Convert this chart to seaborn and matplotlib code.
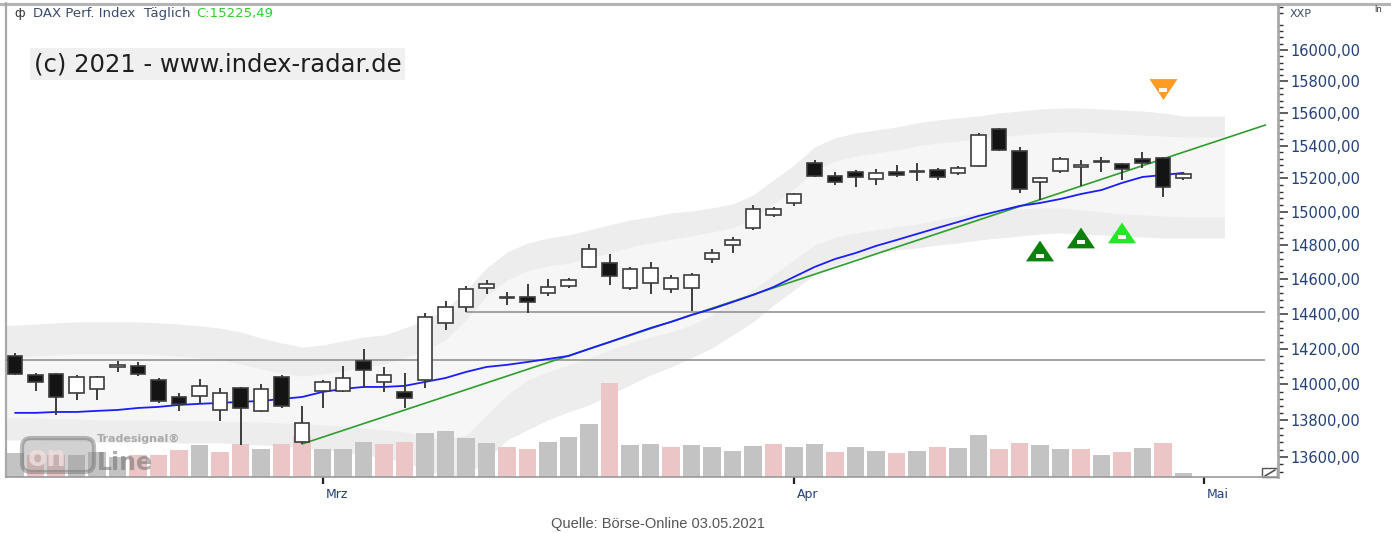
import numpy as np
import pandas as pd
import matplotlib
matplotlib.use("Agg")
import matplotlib.pyplot as plt
import matplotlib.ticker as mticker
import matplotlib.transforms as mtransforms
from matplotlib.patches import FancyBboxPatch, Rectangle
from matplotlib.lines import Line2D
import seaborn as sns

W, H = 1391, 533

## DAX DAILY CANDLES (bar 0 = first bar on screen) ##
bars = list(range(58))
opens = [14160, 14053, 14059, 13952, 13975, 14100, 14104, 14025, 13930, 13936,
         13858, 13980, 13852, 14042, 13682, 13963, 13963, 14132, 14014, 13958,
         14025, 14348, 14440, 14549, 14494, 14497, 14520, 14561, 14672, 14695,
         14549, 14578, 14544, 14549, 14719, 14801, 14903, 14980, 15052, 15295,
         15215, 15240, 15197, 15240, 15237, 15252, 15234, 15276, 15503, 15368,
         15179, 15246, 15272, 15298, 15289, 15319, 15325, 15203]
highs = [14177, 14064, 14064, 14053, 14047, 14132, 14126, 14036, 13952, 14031,
         13980, 13986, 14003, 14053, 13880, 14025, 14104, 14200, 14098, 14064,
         14405, 14474, 14561, 14596, 14526, 14573, 14602, 14608, 14807, 14748,
         14672, 14701, 14625, 14637, 14778, 14849, 15040, 15028, 15112, 15313,
         15240, 15252, 15258, 15282, 15295, 15264, 15276, 15478, 15509, 15393,
         15209, 15331, 15313, 15331, 15295, 15362, 15331, 15240]
lows = [14053, 13963, 13830, 13914, 13914, 14070, 14047, 13897, 13852, 13897,
        13797, 13666, 13847, 13869, 13671, 13869, 13958, 13980, 13958, 13869,
        13980, 14308, 14411, 14515, 14451, 14405, 14503, 14549, 14666, 14567,
        14538, 14515, 14520, 14417, 14695, 14754, 14891, 14968, 15034, 15209,
        15161, 15148, 15161, 15209, 15185, 15191, 15221, 15270, 15368, 15112,
        15070, 15234, 15154, 15240, 15191, 15264, 15088, 15191]
closes = [14059, 14014, 13930, 14042, 14042, 14108, 14059, 13908, 13891, 13991,
          13952, 13869, 13975, 13880, 13786, 14014, 14036, 14081, 14053, 13925,
          14382, 14440, 14544, 14573, 14500, 14468, 14555, 14596, 14778, 14620,
          14661, 14666, 14608, 14625, 14754, 14831, 15016, 15016, 15106, 15215,
          15179, 15209, 15234, 15221, 15243, 15209, 15264, 15466, 15374, 15136,
          15203, 15319, 15280, 15304, 15258, 15295, 15148, 15225]

# volume (relative units) and bar colour group
volume = [24, 22, 22, 22, 25, 20, 22, 22, 27, 32,
          25, 33, 28, 33, 41, 28, 28, 35, 33, 35,
          44, 46, 39, 34, 30, 28, 35, 40, 53, 94,
          32, 33, 30, 32, 30, 26, 31, 33, 30, 33,
          25, 30, 26, 24, 26, 30, 29, 42, 28, 34,
          32, 28, 28, 22, 25, 29, 34, 4]
vol_dir = ['up', 'down', 'down', 'up', 'up', 'up', 'down', 'down', 'down', 'up',
           'down', 'down', 'up', 'down', 'down', 'up', 'up', 'up', 'down', 'down',
           'up', 'up', 'up', 'up', 'down', 'down', 'up', 'up', 'up', 'down',
           'up', 'up', 'down', 'up', 'up', 'up', 'up', 'down', 'up', 'up',
           'down', 'up', 'up', 'down', 'up', 'down', 'up', 'up', 'down', 'down',
           'up', 'up', 'down', 'up', 'down', 'up', 'down', 'up']

## BANDS (shaded channel) ##
band_x = list(range(-1, 60))
band_up_outer = [14330, 14336, 14342, 14348, 14354, 14354, 14354, 14354, 14348, 14342,
                 14331, 14319, 14297, 14262, 14234, 14211, 14222, 14245, 14268, 14279,
                 14319, 14365, 14423, 14538, 14666, 14760, 14813, 14843, 14861, 14891,
                 14921, 14950, 14968, 14992, 15004, 15022, 15046, 15100, 15191, 15282,
                 15393, 15448, 15479, 15497, 15516, 15541, 15559, 15572, 15584, 15603,
                 15615, 15628, 15634, 15634, 15628, 15621, 15615, 15603, 15584, 15584, 15584]
band_up_inner = [14150, 14155, 14160, 14166, 14172, 14172, 14172, 14172, 14166, 14160,
                 14149, 14138, 14115, 14087, 14064, 14047, 14059, 14076, 14098, 14115,
                 14149, 14194, 14251, 14365, 14503, 14596, 14649, 14678, 14695, 14725,
                 14754, 14790, 14813, 14837, 14855, 14879, 14903, 14956, 15046, 15136,
                 15246, 15307, 15337, 15356, 15374, 15399, 15417, 15429, 15442, 15454,
                 15466, 15479, 15485, 15485, 15479, 15472, 15466, 15460, 15454, 15454, 15454]
band_lo_inner = [13814, 13814, 13814, 13808, 13808, 13803, 13803, 13803, 13803, 13797,
                 13797, 13797, 13792, 13792, 13786, 13781, 13775, 13770, 13759, 13748,
                 13737, 13715, 13693, 13720, 13830, 13941, 14025, 14070, 14110, 14149,
                 14194, 14234, 14268, 14297, 14336, 14394, 14468, 14538, 14626, 14713,
                 14801, 14849, 14873, 14891, 14909, 14926, 14950, 14974, 14992, 15004,
                 15016, 15022, 15022, 15010, 14998, 14986, 14980, 14974, 14968, 14968, 14968]
band_lo_outer = [13693, 13693, 13693, 13688, 13688, 13682, 13682, 13682, 13682, 13677,
                 13677, 13677, 13671, 13666, 13661, 13650, 13639, 13628, 13612, 13595,
                 13573, 13530, 13498, 13498, 13584, 13693, 13748, 13803, 13847, 13886,
                 13941, 13997, 14053, 14098, 14149, 14205, 14279, 14354, 14451, 14538,
                 14626, 14684, 14725, 14754, 14772, 14784, 14801, 14813, 14831, 14843,
                 14855, 14867, 14873, 14867, 14861, 14855, 14849, 14843, 14843, 14843, 14843]

# blue moving average
ma_line = [13842, 13842, 13847, 13847, 13853, 13858, 13869, 13875, 13886, 13892,
           13897, 13903, 13908, 13919, 13930, 13958, 13975, 13986, 13986, 13992,
           14014, 14036, 14070, 14098, 14110, 14126, 14143, 14160, 14200, 14239,
           14279, 14319, 14354, 14394, 14428, 14468, 14509, 14555, 14614, 14672,
           14719, 14754, 14796, 14831, 14867, 14903, 14938, 14974, 15004, 15034,
           15052, 15076, 15106, 15130, 15173, 15209, 15221, 15234]

# green trend line, horizontal support lines
trend_x = [14, 61]
trend_y = [13671, 15528]
hline_levels = [14138, 14410]
hline_start = [-0.44, 22]
hline_end = 61

# signal markers
buy_x = [50, 52, 54]
buy_y = [14766, 14843, 14873]
buy_col = ['#0b800b', '#0b800b', '#26e626']
sell_x = [56]
sell_y = [15753]

month_pos = [15, 38, 58]
month_lbl = ['Mrz', 'Apr', 'Mai']
y_major = list(range(13600, 16001, 200))

sns.set_theme(style='white')
plt.rcParams['font.family'] = ['DejaVu Sans']

fig = plt.figure(figsize=(W / 100, H / 100), dpi=100)
pos = [6 / W, 1 - 477 / H, 1272 / W, 472 / H]
XLIM = (-0.44, 61.61)
YLIM = (13492, 16290)

axb = fig.add_axes(pos)
axb.set_yscale('log')
axv = fig.add_axes(pos, sharex=axb)
ax = fig.add_axes(pos, sharex=axb, sharey=axb)
axb.set_zorder(0)
axv.set_zorder(1)
ax.set_zorder(2)
axv.patch.set_visible(False)
ax.patch.set_visible(False)

# bands
axb.fill_between(band_x, band_lo_outer, band_up_outer, color='#ededed', lw=0)
axb.fill_between(band_x, band_lo_inner, band_up_inner, color='#f6f6f6', lw=0)
axb.axis('off')

# volume
vol_df = pd.DataFrame({'bar': bars, 'vol': volume, 'dir': vol_dir})
sns.barplot(data=vol_df, x='bar', y='vol', hue='dir',
            palette={'up': '#c3c3c3', 'down': '#ecc6c6'},
            native_scale=True, width=0.86, dodge=False, saturation=1,
            errorbar=None, legend=False, linewidth=0, ax=axv)
axv.set_ylim(0, max(volume) * 5.02)
axv.axis('off')

# lines
for lvl, x0 in zip(hline_levels, hline_start):
    ax.hlines(lvl, x0, hline_end, color='#8a8a8a', lw=1.1, zorder=2)
ax.plot(trend_x, trend_y, color='#2e9e2e', lw=1.2, zorder=3)
sns.lineplot(x=bars, y=ma_line, ax=ax, color='#1c1cff', linewidth=1.3, zorder=3)

# candles
o = np.array(opens)
c = np.array(closes)
face = np.where(c >= o, 'white', '#141414')
ax.vlines(bars, lows, highs, color='#3c3c3c', lw=1.4, zorder=4)
ax.bar(bars, np.abs(c - o), bottom=np.minimum(o, c), width=0.72,
       color=face, edgecolor='#3c3c3c', linewidth=1.2, zorder=5)

# signal triangles
tri_up = [(-1.35, -1), (1.35, -1), (0, 1)]
tri_dn = [(-1.35, 1), (1.35, 1), (0, -1)]
slot = [(-1.6, -1), (1.6, -1), (1.6, 1), (-1.6, 1)]
ax.scatter(buy_x, buy_y, marker=tri_up, s=408, c=buy_col, linewidths=0, zorder=6)
ax.scatter(buy_x, buy_y, marker=slot, s=33, c='white', linewidths=0, zorder=7,
           transform=mtransforms.offset_copy(ax.transData, fig=fig, y=-4.5, units='dots'))
ax.scatter(sell_x, sell_y, marker=tri_dn, s=408, c='#ff9b1e', linewidths=0, zorder=6)
ax.scatter(sell_x, sell_y, marker=slot, s=33, c='white', linewidths=0, zorder=7,
           transform=mtransforms.offset_copy(ax.transData, fig=fig, y=-1.5, units='dots'))

# axes styling
ax.set_xlim(*XLIM)
ax.set_ylim(*YLIM)
ax.yaxis.tick_right()
ax.yaxis.set_major_locator(mticker.FixedLocator(y_major))
ax.yaxis.set_minor_locator(mticker.FixedLocator([v for v in range(13520, 16281, 40) if v % 200]))
ax.yaxis.set_major_formatter(mticker.FuncFormatter(lambda v, p: f"{v:.2f}".replace('.', ',')))
ax.yaxis.set_minor_formatter(mticker.NullFormatter())
ax.tick_params(axis='y', which='major', right=True, left=False, length=7, width=1.1,
               color='#333333', pad=2, labelsize=10.5, labelcolor='#22407a', direction='out')
ax.tick_params(axis='y', which='minor', right=True, left=False, length=3.5, width=1,
               color='#333333', direction='out')
ax.set_xticks(month_pos)
ax.set_xticklabels(month_lbl)
ax.tick_params(axis='x', which='major', bottom=True, length=5, width=1.6, color='#222222',
               pad=3, labelsize=9, labelcolor='#22407a', direction='out')
for lab in ax.get_xticklabels():
    lab.set_horizontalalignment('left')
    lab.set_transform(lab.get_transform() + mtransforms.ScaledTranslation(3 / 100, 0, fig.dpi_scale_trans))
ax.set_xlabel('')
ax.set_ylabel('')
ax.grid(False)
for side in ['left', 'top']:
    ax.spines[side].set_visible(False)
ax.spines['right'].set_color('#a8a8a8')
ax.spines['right'].set_linewidth(2)
ax.spines['bottom'].set_color('#9a9a9a')
ax.spines['bottom'].set_linewidth(1.2)

# outer frame lines (top and left border of the chart window)
ident = mtransforms.IdentityTransform()
fig.add_artist(Line2D([0, W], [H - 3.5, H - 3.5], color='#b4b4b4', lw=2.2, transform=ident))
fig.add_artist(Line2D([5.5, 5.5], [H - 477, H - 3], color='#a8a8a8', lw=1.6, transform=ident))

# small resize icon bottom right of the plot
fig.add_artist(Rectangle((1262, H - 477), 15, 9, fill=False, ec='#555555', lw=1, transform=ident))
fig.add_artist(Line2D([1265, 1275], [H - 476, H - 470], color='#555555', lw=1.2, transform=ident))

# header texts
fig.text(14 / W, 1 - 14 / H, 'ф', fontsize=9, color='#333333', va='center', ha='left')
fig.text(33 / W, 1 - 14 / H, 'DAX Perf. Index  Täglich', fontsize=9.5, color='#3b4a6b',
         va='center', ha='left')
fig.text(196 / W, 1 - 14 / H, 'C:15225,49', fontsize=9.5, color='#2bd12b',
         va='center', ha='left')
fig.text(1290 / W, 1 - 14 / H, 'XXP', fontsize=8, color='#3b4a6b', va='center', ha='left')
fig.text(1374 / W, 1 - 9 / H, 'ln', fontsize=6, color='#333333', va='center', ha='left')

fig.text(34 / W, 1 - 64 / H, '(c) 2021 - www.index-radar.de', fontsize=17.5, color='#1e1e1e',
         va='center', ha='left',
         bbox=dict(boxstyle='square,pad=0.15', fc='#f0f0f0', ec='none'))

# Tradesignal online watermark
fig.add_artist(FancyBboxPatch((22, H - 472), 72, 34, boxstyle='round,pad=0,rounding_size=9',
                              fc='#9a9a9a', ec='#6e6e6e', lw=3, alpha=0.45, transform=ident,
                              zorder=5))
fig.text(28 / W, 1 - 458 / H, 'on', fontsize=20, fontweight='bold', color='#f2dede',
         alpha=0.8, va='center', ha='left', zorder=6)
fig.text(97 / W, 1 - 463 / H, 'Line', fontsize=17, fontweight='bold', color='#6e6e6e',
         alpha=0.55, va='center', ha='left', zorder=6)
fig.text(97 / W, 1 - 439 / H, 'Tradesignal®', fontsize=8, fontweight='bold', color='#8c8c8c',
         alpha=0.7, va='center', ha='left', zorder=6)

# caption
fig.text(658 / W, 1 - 524 / H, 'Quelle: Börse-Online 03.05.2021', fontsize=10.5,
         family=['Liberation Sans', 'DejaVu Sans'], color='#555555', va='center', ha='center')

fig.savefig('out.png', dpi=100, facecolor='white')
